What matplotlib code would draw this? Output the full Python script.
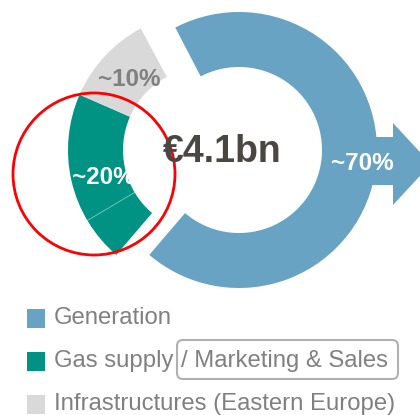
import numpy as np
import matplotlib
matplotlib.use("Agg")
import matplotlib.pyplot as plt
from matplotlib.patches import Wedge, Polygon, Circle, Rectangle, FancyBboxPatch

# -------------------------------------------------------------
# Data
# -------------------------------------------------------------
segments = ["Generation", "Gas supply", "Infrastructures (Eastern Europe)"]
shares = [68.9, 20.3, 10.6]          # share of the ring, in %
labels = ["~70%", "~20%", "~10%"]
gas_split = [15.1, 5.2]              # gas supply part / marketing & sales part
total_label = "€4.1bn"
legend_extra = "/ Marketing & Sales"

colors = ["#68a3c3", "#009383", "#d9d9d9"]
label_colors = ["white", "white", "#808080"]

# -------------------------------------------------------------
# Figure in pixel units (y up)
# -------------------------------------------------------------
W, H = 420, 415
fig = plt.figure(figsize=(W / 100, H / 100), dpi=100)
ax = fig.add_axes([0, 0, 1, 1])
ax.set_xlim(0, W)
ax.set_ylim(0, H)
ax.axis("off")
plt.rcParams["font.family"] = ["Liberation Sans", "DejaVu Sans"]


def Y(py):
    return H - py


R_out, R_in = 138, 83
center = (239, Y(150))
exploded = (206, Y(150))
start = 117.5

# ring, clockwise from the top-left
angles = np.array(shares) / 100 * 360
end_blue = start - angles[0]
ax.add_patch(Wedge(center, R_out, end_blue, start, width=R_out - R_in,
                   facecolor=colors[0], edgecolor="none"))

# arrow on the right of the generation part
arrow = [(340, 137), (393, 137), (393, 123), (431, 164),
         (393, 205), (393, 185), (340, 185)]
ax.add_patch(Polygon([(x, Y(y)) for x, y in arrow], closed=True,
                     facecolor=colors[0], edgecolor="none"))

# gas supply + infrastructures, pulled out to the left
t1 = end_blue + 360
t2 = t1 - angles[1]
ax.add_patch(Wedge(exploded, R_out, t2, t1, width=R_out - R_in,
                   facecolor=colors[1], edgecolor="none"))
t3 = t2 - angles[2]
ax.add_patch(Wedge(exploded, R_out, t3, t2, width=R_out - R_in,
                   facecolor=colors[2], edgecolor="none"))

# faint divider inside the teal part
a = np.deg2rad(t1 - gas_split[1] / 100 * 360)
ax.plot([exploded[0] + R_in * np.cos(a), exploded[0] + R_out * np.cos(a)],
        [exploded[1] + R_in * np.sin(a), exploded[1] + R_out * np.sin(a)],
        color="white", lw=0.6, alpha=0.5)

# labels
label_pos = [(362, 164), (103, 178), (129, 80)]
for (x, y), txt, c in zip(label_pos, labels, label_colors):
    ax.text(x, Y(y), txt, color=c, fontsize=17.5, fontweight="bold",
            ha="center", va="center")

ax.text(222, Y(152), total_label, color="#4a4641", fontsize=27,
        fontweight="bold", ha="center", va="center")

# red highlight circle
ax.add_patch(Circle((94, Y(174)), 81, fill=False, edgecolor="#ff0000", lw=2))

# -------------------------------------------------------------
# Legend
# -------------------------------------------------------------
row_y = [318, 361, 404]
for yy, name, c in zip(row_y, segments, colors):
    ax.add_patch(Rectangle((27, Y(yy + 9.5)), 18, 19, facecolor=c, edgecolor="none"))
    ax.text(54, Y(yy), name, color="#808080", fontsize=17.2, ha="left", va="center")

ax.add_patch(FancyBboxPatch((177, Y(379)), 221, 39,
                            boxstyle="round,pad=0,rounding_size=6",
                            fill=False, edgecolor="#b0b0b0", lw=1.5))
ax.text(181, Y(361), legend_extra, color="#808080", fontsize=17.2,
        ha="left", va="center")

fig.savefig("out.png", dpi=100)
